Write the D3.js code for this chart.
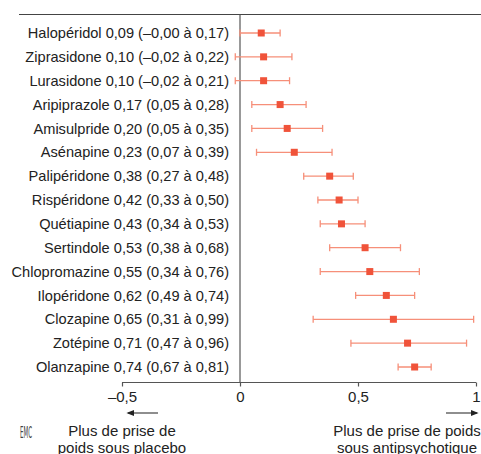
<!DOCTYPE html>
<html>
<head>
<meta charset="utf-8">
<script src="https://cdn.jsdelivr.net/npm/d3@7"></script>
<style>
  body { margin: 0; background: #fff; font-family: "Liberation Sans", Arial, sans-serif; }
  svg { display: block; }
</style>
</head>
<body>
<div id="container"><svg></svg></div>
<script>
// medicaments, effet estime et intervalle de confiance
let drugs = ['Halopéridol', 'Ziprasidone', 'Lurasidone', 'Aripiprazole', 'Amisulpride',
    'Asénapine', 'Palipéridone', 'Rispéridone', 'Quétiapine', 'Sertindole',
    'Chlopromazine', 'Ilopéridone', 'Clozapine', 'Zotépine', 'Olanzapine'];
let estimates = [0.09, 0.10, 0.10, 0.17, 0.20, 0.23, 0.38, 0.42, 0.43, 0.53, 0.55, 0.62, 0.65, 0.71, 0.74];
let ci_low = [0.00, -0.02, -0.02, 0.05, 0.05, 0.07, 0.27, 0.33, 0.34, 0.38, 0.34, 0.49, 0.31, 0.47, 0.67];
let ci_high = [0.17, 0.22, 0.21, 0.28, 0.35, 0.39, 0.48, 0.50, 0.53, 0.68, 0.76, 0.74, 0.99, 0.96, 0.81];
let ci_labels = ['0,09 (–0,00 à 0,17)', '0,10 (–0,02 à 0,22)', '0,10 (–0,02 à 0,21)', '0,17 (0,05 à 0,28)',
    '0,20 (0,05 à 0,35)', '0,23 (0,07 à 0,39)', '0,38 (0,27 à 0,48)', '0,42 (0,33 à 0,50)',
    '0,43 (0,34 à 0,53)', '0,53 (0,38 à 0,68)', '0,55 (0,34 à 0,76)', '0,62 (0,49 à 0,74)',
    '0,65 (0,31 à 0,99)', '0,71 (0,47 à 0,96)', '0,74 (0,67 à 0,81)'];
let x_ticks = [-0.5, 0, 0.5, 1];
let x_tick_labels = ['–0,5', '0', '0,5', '1'];

let width = 481;
let height = 454;
let fontFamily = '"Liberation Sans", Arial, sans-serif';

function draw_main() {
    let data = drugs.map((d, i) => ({
        name: d, est: estimates[i], lo: ci_low[i], hi: ci_high[i], label: ci_labels[i]
    }));

    let svg = d3.select('#container').select('svg')
        .attr('width', width)
        .attr('height', height)
        .attr('font-family', fontFamily);

    let x = d3.scaleLinear()
        .domain([-0.5, 1])
        .range([122, 476]);
    let y = d3.scalePoint()
        .domain(drugs)
        .range([33, 367]);

    let top_y = 14.5;
    let axis_y = 382.5;

    // top rule
    svg.append('line')
        .attr('x1', 19).attr('x2', width)
        .attr('y1', top_y).attr('y2', top_y)
        .attr('stroke', '#444').attr('stroke-width', 1.2);

    // zero line
    svg.append('line')
        .attr('x1', x(0)).attr('x2', x(0))
        .attr('y1', top_y).attr('y2', axis_y)
        .attr('stroke', '#555').attr('stroke-width', 1.2);

    // x axis
    let axis_x = d3.axisBottom(x)
        .tickValues(x_ticks)
        .tickSize(4)
        .tickPadding(5)
        .tickFormat((d, i) => x_tick_labels[i]);
    let gx = svg.append('g')
        .attr('transform', `translate(0, ${axis_y})`)
        .call(axis_x);
    gx.select('.domain')
        .attr('d', `M${x(-0.5)},0H${x(1)}`)
        .attr('stroke', '#555').attr('stroke-width', 1.2);
    gx.selectAll('.tick line').attr('stroke', '#555').attr('stroke-width', 1.2);
    gx.selectAll('.tick text')
        .attr('font-family', fontFamily)
        .attr('font-size', 15)
        .attr('fill', '#222');

    // labels
    svg.append('g')
        .selectAll('text')
        .data(data)
        .enter().append('text')
        .attr('x', 229)
        .attr('y', d => y(d.name))
        .attr('dy', '0.35em')
        .attr('text-anchor', 'end')
        .attr('font-size', 14.6)
        .attr('fill', '#222')
        .text(d => d.name + ' ' + d.label);

    // error bars
    let bars = svg.append('g')
        .selectAll('g')
        .data(data)
        .enter().append('g')
        .attr('transform', d => `translate(0, ${y(d.name)})`);
    let barColor = '#f68f79';
    bars.append('line')
        .attr('x1', d => x(d.lo)).attr('x2', d => x(d.hi))
        .attr('stroke', barColor).attr('stroke-width', 1.3);
    bars.append('line')
        .attr('x1', d => x(d.lo)).attr('x2', d => x(d.lo))
        .attr('y1', -3.5).attr('y2', 3.5)
        .attr('stroke', barColor).attr('stroke-width', 1.3);
    bars.append('line')
        .attr('x1', d => x(d.hi)).attr('x2', d => x(d.hi))
        .attr('y1', -3.5).attr('y2', 3.5)
        .attr('stroke', barColor).attr('stroke-width', 1.3);
    bars.append('rect')
        .attr('x', d => x(d.est) - 3.5)
        .attr('y', -3.5)
        .attr('width', 7).attr('height', 7)
        .attr('fill', '#f0533a');

    // arrows
    let defs = svg.append('defs');
    defs.append('marker')
        .attr('id', 'arrow')
        .attr('viewBox', '0 0 10 10')
        .attr('refX', 8).attr('refY', 5)
        .attr('markerWidth', 8).attr('markerHeight', 8)
        .attr('markerUnits', 'userSpaceOnUse')
        .attr('orient', 'auto')
        .append('path')
        .attr('d', 'M0,1L10,5L0,9Z')
        .attr('fill', '#222');
    svg.append('line')
        .attr('x1', 158).attr('x2', 128)
        .attr('y1', 413).attr('y2', 413)
        .attr('stroke', '#444').attr('stroke-width', 1.2)
        .attr('marker-end', 'url(#arrow)');
    svg.append('line')
        .attr('x1', 446).attr('x2', 477)
        .attr('y1', 413).attr('y2', 413)
        .attr('stroke', '#444').attr('stroke-width', 1.2)
        .attr('marker-end', 'url(#arrow)');

    // bottom captions (second line is cut by the lower edge, as in the original)
    let left = svg.append('text')
        .attr('text-anchor', 'middle')
        .attr('font-size', 15)
        .attr('fill', '#222');
    left.append('tspan').attr('x', 122).attr('y', 436).text('Plus de prise de');
    left.append('tspan').attr('x', 122).attr('y', 453).text('poids sous placebo');
    let right = svg.append('text')
        .attr('text-anchor', 'middle')
        .attr('font-size', 15)
        .attr('fill', '#222');
    right.append('tspan').attr('x', 407).attr('y', 436).text('Plus de prise de poids');
    right.append('tspan').attr('x', 407).attr('y', 453).text('sous antipsychotique');

    // logo
    svg.append('text')
        .attr('x', 26).attr('y', 438)
        .attr('text-anchor', 'middle')
        .attr('font-size', 16)
        .attr('font-family', '"DejaVu Sans Condensed", sans-serif')
        .attr('textLength', 12)
        .attr('lengthAdjust', 'spacingAndGlyphs')
        .attr('fill', '#444')
        .text('EMC');
}

draw_main();
</script>
</body>
</html>
